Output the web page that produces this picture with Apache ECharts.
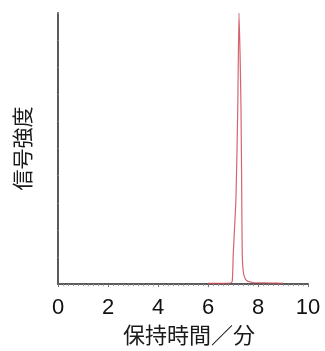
<!DOCTYPE html>
<html>
<head>
<meta charset="utf-8">
<script src="https://cdn.jsdelivr.net/npm/echarts@6/dist/echarts.min.js"></script>
<style>
  html, body { margin: 0; padding: 0; background: #fff; }
  #chart { width: 325px; height: 351px; }
</style>
</head>
<body>
<div id="chart"></div>
<script>
// Chromatogram: retention time (min) vs. signal intensity (relative)
const retentionTime = [6.0, 6.5, 6.9, 6.97, 7.01, 7.12, 7.19, 7.24, 7.32, 7.35, 7.37, 7.42, 7.5, 7.6, 7.8, 8.0, 8.5, 9.0];
const signal        = [0.3, 0.3, 0.4, 1.0, 11, 32, 65, 100, 65, 32, 11, 4, 1.8, 1.0, 0.6, 0.5, 0.4, 0.3];
const xTicks = [0, 2, 4, 6, 8, 10];
const xTitle = '保持時間／分';
const yTitle = '信号強度';

const points = retentionTime.map((t, i) => [t, signal[i]]);

const chart = echarts.init(document.getElementById('chart'), null, { renderer: 'canvas' });
chart.setOption({
  animation: false,
  backgroundColor: '#ffffff',
  grid: { left: 58, right: 17, top: 13, bottom: 61, containLabel: false },
  xAxis: {
    type: 'value',
    min: xTicks[0],
    max: xTicks[xTicks.length - 1],
    interval: 2,
    name: xTitle,
    nameLocation: 'middle',
    nameGap: 38,
    nameTextStyle: { fontFamily: 'Noto Sans CJK JP', fontSize: 22, color: '#1a1a1a', padding: [0, 0, 0, 12] },
    axisLine: { show: true, lineStyle: { color: '#5a5a5a', width: 2 } },
    axisTick: { show: true, length: 3, lineStyle: { color: '#777', width: 1 } },
    minorTick: { show: true, splitNumber: 10, length: 2, lineStyle: { color: '#999', width: 1 } },
    axisLabel: { margin: 13, fontFamily: 'Liberation Sans', fontSize: 22, color: '#111' },
    splitLine: { show: false }
  },
  yAxis: {
    type: 'value',
    min: 0,
    max: 100,
    interval: 10,
    name: yTitle,
    nameLocation: 'middle',
    nameGap: 25,
    nameTextStyle: { fontFamily: 'Noto Sans CJK JP', fontSize: 21, color: '#1a1a1a' },
    axisLine: { show: true, lineStyle: { color: '#5a5a5a', width: 2 } },
    axisTick: { show: true, inside: true, length: 1, lineStyle: { color: '#999', width: 1 } },
    axisLabel: { show: false },
    splitLine: { show: false }
  },
  series: [{
    type: 'line',
    data: points,
    showSymbol: false,
    smooth: 0.2,
    lineStyle: { color: '#cc4a55', width: 1.2, opacity: 0.85 }
  }]
});
</script>
</body>
</html>
